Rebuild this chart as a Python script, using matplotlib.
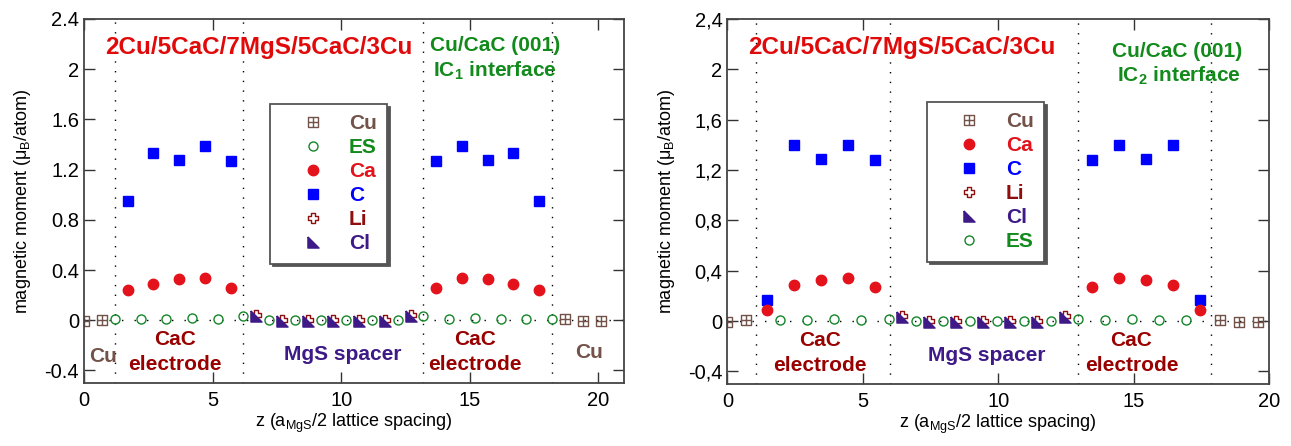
import numpy as np
import matplotlib
matplotlib.use("Agg")
import matplotlib.pyplot as plt
from matplotlib.path import Path

plt.rcParams['font.family'] = ['Liberation Sans', 'DejaVu Sans']
plt.rcParams['mathtext.fontset'] = 'custom'
plt.rcParams['mathtext.rm'] = 'Liberation Sans'
plt.rcParams['mathtext.bf'] = 'Liberation Sans:bold'
plt.rcParams['mathtext.it'] = 'Liberation Sans:italic'

# ---- data, left panel (IC1 interface)
z_cu1 = [0.0, 0.7, 18.7, 19.4, 20.1]
cu1 = [-0.01, 0.0, 0.01, -0.01, -0.01]
z_es1 = [1.2, 2.2, 3.2, 4.2, 5.2, 6.2, 7.2, 8.2, 9.2, 10.2, 11.2, 12.2, 13.2, 14.2, 15.2, 16.2, 17.2, 18.2]
es1 = [0.01, 0.01, 0.01, 0.02, 0.01, 0.03, 0.0, 0.0, 0.0, 0.0, 0.0, 0.0, 0.03, 0.01, 0.02, 0.01, 0.01, 0.01]
z_cac1 = [1.7, 2.7, 3.7, 4.7, 5.7, 13.7, 14.7, 15.7, 16.7, 17.7]
ca1 = [0.24, 0.29, 0.33, 0.34, 0.26, 0.26, 0.34, 0.33, 0.29, 0.24]
c1 = [0.95, 1.33, 1.28, 1.39, 1.27, 1.27, 1.39, 1.28, 1.33, 0.95]
z_mgs1 = [6.7, 7.7, 8.7, 9.7, 10.7, 11.7, 12.7]
li1 = [0.04, 0.0, 0.0, 0.0, 0.0, 0.0, 0.04]
cl1 = [0.03, -0.01, -0.01, -0.01, -0.01, -0.01, 0.03]
bounds1 = [1.2, 6.2, 13.2, 18.2]

# ---- data, right panel (IC2 interface)
z_cu2 = [0.0, 0.7, 18.2, 18.9, 19.6]
cu2 = [-0.01, 0.01, 0.01, -0.01, -0.01]
z_es2 = [1.95, 2.95, 3.95, 4.95, 5.95, 6.95, 7.95, 8.95, 9.95, 10.95, 11.95, 12.95, 13.95, 14.95, 15.95, 16.95]
es2 = [0.01, 0.01, 0.02, 0.01, 0.02, 0.0, 0.0, 0.0, 0.0, 0.0, 0.0, 0.02, 0.01, 0.02, 0.01, 0.01]
z_cac2 = [1.45, 2.45, 3.45, 4.45, 5.45, 13.45, 14.45, 15.45, 16.45, 17.45]
ca2 = [0.09, 0.29, 0.33, 0.34, 0.27, 0.27, 0.34, 0.33, 0.29, 0.09]
c2 = [0.17, 1.40, 1.29, 1.40, 1.28, 1.28, 1.40, 1.29, 1.40, 0.17]
z_mgs2 = [6.45, 7.45, 8.45, 9.45, 10.45, 11.45, 12.45]
li2 = [0.04, 0.0, 0.0, 0.0, 0.0, 0.0, 0.04]
cl2 = [0.03, -0.01, -0.01, -0.01, -0.01, -0.01, 0.03]
bounds2 = [1.05, 6.0, 12.95, 17.85]

yticks = [-0.4, 0, 0.4, 0.8, 1.2, 1.6, 2, 2.4]
ylab1 = ['-0.4', '0', '0.4', '0.8', '1.2', '1.6', '2', '2.4']
ylab2 = ['-0,4', '0', '0,4', '0,8', '1,2', '1,6', '2', '2,4']

# colours
c_cu = '#735249'
c_es = '#15852a'
c_ca = '#e3121b'
c_c = '#0000ff'
c_li = '#8f0f0f'
c_cl = '#3d1a87'
c_cac = '#990000'
c_title = '#e00a0a'
c_green = '#138a1c'

# markers
box_plus = Path([(-1, -1), (1, -1), (1, 1), (-1, 1), (-1, -1), (0, -1), (0, 1), (-1, 0), (1, 0)],
                [1, 2, 2, 2, 2, 1, 2, 1, 2])
a = 0.35
plus_out = Path([(-a, -1), (a, -1), (a, -a), (1, -a), (1, a), (a, a), (a, 1), (-a, 1),
                 (-a, a), (-1, a), (-1, -a), (-a, -a), (-a, -1)])
tri = Path([(-1, 1), (-1, -1), (1, -1), (-1, 1)])


def panel(ax, xmax, z_cu, cu, z_es, es, z_cac, ca, c, z_mgs, li, cl, bounds, ylab, order):
    ax.axhline(0, color='k', lw=1.0, ls=(0, (1, 8)), zorder=1)
    for b in bounds:
        ax.axvline(b, color='k', lw=1.0, ls=(0, (1, 6)), zorder=1)
    h = {}
    h['Cu'] = ax.plot(z_cu, cu, ls='none', marker=box_plus, ms=7, mfc='none', mec=c_cu, mew=1.0)[0]
    h['ES'] = ax.plot(z_es, es, ls='none', marker='o', ms=6.5, mfc='none', mec=c_es, mew=1.0)[0]
    h['C'] = ax.plot(z_cac, c, ls='none', marker='s', ms=7.5, color=c_c)[0]
    h['Ca'] = ax.plot(z_cac, ca, ls='none', marker='o', ms=7.5, color=c_ca)[0]
    h['Li'] = ax.plot(z_mgs, li, ls='none', marker=plus_out, ms=7.5, mfc='white', mec=c_li, mew=1.0)[0]
    h['Cl'] = ax.plot(z_mgs, cl, ls='none', marker=tri, ms=8, color=c_cl)[0]

    ax.set_xlim(0, xmax)
    ax.set_ylim(-0.5, 2.4)
    ax.set_xticks([0, 5, 10, 15, 20])
    ax.set_yticks(yticks)
    ax.set_yticklabels(ylab)
    ax.tick_params(direction='in', length=8, width=1.0, top=True, right=True,
                   labelsize=14.5, colors='#333333', labelcolor='k')
    ax.tick_params(axis='x', pad=6)
    for s in ax.spines.values():
        s.set_linewidth(1.3)
        s.set_color('#444444')
    ax.set_xlabel(r'z (a$_\mathrm{MgS}$/2 lattice spacing)', fontsize=13, labelpad=1)
    ax.set_ylabel(r'magnetic moment (μ$_\mathrm{B}$/atom)', fontsize=13, labelpad=8)

    cols = {'Cu': c_cu, 'ES': c_green, 'Ca': c_ca, 'C': c_c, 'Li': c_li, 'Cl': c_cl}
    leg = ax.legend([h[k] for k in order], order, loc='upper left',
                    prop={'weight': 'bold', 'size': 15}, labelcolor=[cols[k] for k in order],
                    frameon=True, fancybox=False, shadow={'color': '#555555', 'alpha': 1},
                    edgecolor='#555555', handlelength=3.1, handletextpad=0.2,
                    labelspacing=0.24, borderpad=0.5, borderaxespad=0)
    leg.get_frame().set_linewidth(1.3)
    return leg


fig = plt.figure(figsize=(12.91, 4.46), dpi=100)
ax1 = fig.add_axes([0.0651, 0.1413, 0.4183, 0.8161])
ax2 = fig.add_axes([0.5635, 0.139, 0.4194, 0.8184])

leg1 = panel(ax1, 21, z_cu1, cu1, z_es1, es1, z_cac1, ca1, c1, z_mgs1, li1, cl1, bounds1, ylab1,
             ['Cu', 'ES', 'Ca', 'C', 'Li', 'Cl'])
leg1.set_bbox_to_anchor((0.344, 0.767))
leg2 = panel(ax2, 20, z_cu2, cu2, z_es2, es2, z_cac2, ca2, c2, z_mgs2, li2, cl2, bounds2, ylab2,
             ['Cu', 'Ca', 'C', 'Li', 'Cl', 'ES'])
leg2.set_bbox_to_anchor((0.368, 0.773))

bold = dict(fontweight='bold', ha='center', va='center')

# left panel texts
ax1.text(6.8, 2.17, '2Cu/5CaC/7MgS/5CaC/3Cu', color=c_title, fontsize=17.5, **bold)
ax1.text(15.98, 2.19, 'Cu/CaC (001)', color=c_green, fontsize=15, **bold)
ax1.text(15.98, 1.99, r'IC$_\mathbf{1}$ interface', color=c_green, fontsize=15, **bold)
ax1.text(0.75, -0.29, 'Cu', color=c_cu, fontsize=15, **bold)
ax1.text(19.64, -0.26, 'Cu', color=c_cu, fontsize=15, **bold)
for x in [3.54, 15.2]:
    ax1.text(x, -0.155, 'CaC', color=c_cac, fontsize=15, **bold)
    ax1.text(x, -0.355, 'electrode', color=c_cac, fontsize=15, **bold)
ax1.text(10.06, -0.275, 'MgS spacer', color=c_cl, fontsize=15, **bold)

# right panel texts
ax2.text(6.43, 2.17, '2Cu/5CaC/7MgS/5CaC/3Cu', color=c_title, fontsize=17.5, **bold)
ax2.text(16.6, 2.14, 'Cu/CaC (001)', color=c_green, fontsize=15, **bold)
ax2.text(16.66, 1.95, r'IC$_\mathbf{2}$ interface', color=c_green, fontsize=15, **bold)
for x in [3.42, 14.92]:
    ax2.text(x, -0.155, 'CaC', color=c_cac, fontsize=15, **bold)
    ax2.text(x, -0.355, 'electrode', color=c_cac, fontsize=15, **bold)
ax2.text(9.57, -0.275, 'MgS spacer', color=c_cl, fontsize=15, **bold)

fig.savefig('out.png', dpi=100)
